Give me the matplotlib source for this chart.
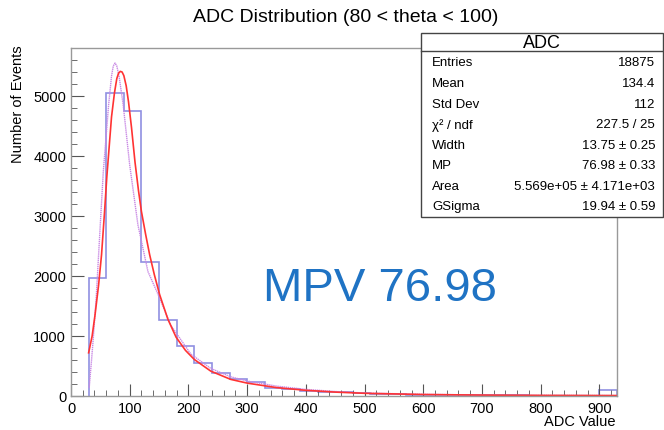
import matplotlib
matplotlib.use("Agg")
import matplotlib.pyplot as plt
import numpy as np
from matplotlib.ticker import MultipleLocator

plt.rcParams['font.family'] = ['Liberation Sans', 'DejaVu Sans']

# histogram: bins of 30 ADC from 30 to 930
bin_edges = list(range(30, 931, 30))
counts = [1966, 5055, 4745, 2231, 1268, 836, 554, 376, 290, 240,
          140, 112, 85, 66, 64, 44, 38, 28, 22, 20,
          16, 12, 12, 10, 9, 8, 7, 6, 5, 100]

# fitted curve (red)
fit_x = [30, 36, 41, 47, 52, 57, 61, 65, 69, 74, 78, 81, 84, 87, 90, 94, 98,
         103, 109, 115, 120, 127, 134, 142, 151, 165, 179, 195, 210, 238, 272,
         300, 350, 400, 450, 500, 600, 700, 800, 930]
fit_y = [720, 1000, 1357, 1850, 2353, 3050, 3650, 4150, 4650, 5050, 5290,
         5380, 5410, 5400, 5340, 5170, 4900, 4480, 3900, 3420, 3073, 2700,
         2353, 2020, 1689, 1280, 980, 760, 609, 415, 277, 215, 140, 95, 65,
         45, 25, 15, 10, 7]

# second curve (dotted purple)
alt_x = [31, 35, 38, 43, 47, 51, 55, 60, 64, 69, 72, 75, 78, 82, 89, 100,
         114, 131, 148, 170, 204, 238, 272, 300, 350, 400, 450, 500, 600, 700,
         800, 930]
alt_y = [138, 600, 969, 1650, 2353, 3050, 3737, 4350, 4845, 5330, 5500, 5550,
         5500, 5320, 4845, 3848, 2852, 2076, 1700, 1180, 700, 460, 320, 250,
         165, 110, 75, 50, 28, 17, 12, 8]

stat_rows = [("Entries", "18875"), ("Mean", "134.4"), ("Std Dev", "112"),
             ("χ² / ndf", "227.5 / 25"), ("Width", "13.75 ± 0.25"),
             ("MP", "76.98 ± 0.33"), ("Area", "5.569e+05 ± 4.171e+03"),
             ("GSigma", "19.94 ± 0.59")]

fig = plt.figure(figsize=(6.64, 4.31), dpi=100)
ax = fig.add_axes([71/664, 1 - 397/431, 546/664, 348/431])

ax.stairs(counts, bin_edges, color="#7c7cdc", lw=1.2, alpha=0.85, baseline=0)
ax.plot(alt_x, alt_y, color="#c888e4", lw=1.0, ls=(0, (1, 0.5)))
ax.plot(fit_x, fit_y, color="#ff3333", lw=1.2)

ax.set_xlim(0, 930)
ax.set_ylim(0, 5800)
ax.xaxis.set_major_locator(MultipleLocator(100))
ax.xaxis.set_minor_locator(MultipleLocator(20))
ax.yaxis.set_major_locator(MultipleLocator(1000))
ax.yaxis.set_minor_locator(MultipleLocator(200))
ax.tick_params(which="both", direction="in", colors="#555555", labelcolor="black",
               labelsize=10.5, top=False, right=False)
ax.tick_params(which="major", length=9)
ax.tick_params(which="minor", length=4.5)
for s in ax.spines.values():
    s.set_color("#999999")
    s.set_linewidth(1.0)

fig.text(616/664, 1 - 422/431, "ADC Value", ha="right", va="center", fontsize=10.5)
fig.text(18/664, 1 - 45/431, "Number of Events", ha="center", va="top",
         rotation=90, fontsize=10.5)

fig.text(0.52, 1 - 18/431, "ADC Distribution (80 < theta < 100)",
         ha="center", va="center", fontsize=14)

ax.text(0.352, 0.275, "MPV 76.98", transform=ax.transAxes, fontsize=34,
        color="#1f73c4", ha="left", va="baseline")

# stat box
bx0, bx1 = 421/664, 663/664
by_top, by_bot = 1 - 34/431, 1 - 218/431
box = plt.Rectangle((bx0, by_bot), bx1 - bx0, by_top - by_bot, transform=fig.transFigure,
                    facecolor="white", edgecolor="#444444", lw=1.0, zorder=5)
fig.patches.append(box)
hdr_line = 1 - 51.5/431
fig.lines.append(plt.Line2D([bx0, bx1], [hdr_line, hdr_line], transform=fig.transFigure,
                            color="#444444", lw=1.0, zorder=6))
fig.text((bx0 + bx1) / 2, 1 - 43/431, "ADC", ha="center", va="center", fontsize=13, zorder=7)
for i, (name, val) in enumerate(stat_rows):
    y = 1 - (63.3 + i * 20.6) / 431
    fig.text(432/664, y, name, ha="left", va="center", fontsize=9.5, zorder=7)
    fig.text(655/664, y, val, ha="right", va="center", fontsize=9.5, zorder=7)

fig.savefig("out.png", dpi=100)
